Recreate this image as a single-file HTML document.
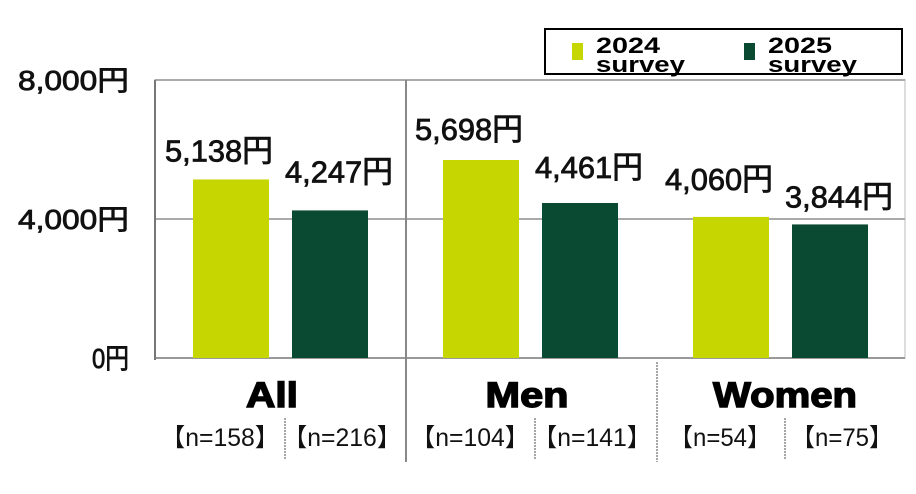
<!DOCTYPE html>
<html><head><meta charset="utf-8"><style>
body{margin:0;background:#fff;width:916px;height:489px;overflow:hidden;font-family:"Liberation Sans","Noto Sans CJK JP",sans-serif}
svg text{font-family:"Liberation Sans","Noto Sans CJK JP",sans-serif}
</style></head><body>
<svg width="916" height="489">
<g id="g"></g>
</svg>
<script>
const categories=["All","Men","Women"];
const s2024=[5138,5698,4060];
const s2025=[4247,4461,3844];
const nLabels2024=["【n=158】","【n=104】","【n=54】"];
const nLabels2025=["【n=216】","【n=141】","【n=75】"];
const yTicks=[0,4000,8000];
const X0=155,GW=250,Y0=358,Y1=80,YMAX=8000;
const y=v=>Y0-(v/YMAX)*(Y0-Y1);
const gx=i=>X0+i*GW;
const ns="http://www.w3.org/2000/svg";
const g=document.getElementById('g');
function el(t,a,txt){const e=document.createElementNS(ns,t);for(const k in a)e.setAttribute(k,a[k]);if(txt!=null)e.textContent=txt;g.appendChild(e);return e;}
const labelGap=[[18,28],[20,25],[27,17]];
let e=el('rect',{x:X0,y:Y1,width:GW*3,height:Y0-Y1,fill:'none',stroke:'#ddd','stroke-width':2});


yTicks.forEach(t=>{
 let l=el('line',{x1:X0,x2:X0+GW*3,y1:y(t),y2:y(t),stroke:t==0?'#999':'#aaa','stroke-width':2});
 
 
 let s=t.toLocaleString('en-US')+'円';
 let tx=el('text',{x:129,y:y(t)+10,'text-anchor':'end','font-size':28,fill:'#111',stroke:'#111','stroke-width':0.8,textLength:s.length*18.5,lengthAdjust:'spacingAndGlyphs'},s);
 
 
});
e=el('line',{x1:X0,x2:X0,y1:Y1,y2:Y0+2,stroke:'#777','stroke-width':2});


const catW=[52,83,144];
categories.forEach((c,i)=>{
 const bx=[gx(i)+38,gx(i)+137];
 [s2024[i],s2025[i]].forEach((v,j)=>{
  let r=el('rect',{x:bx[j],y:y(v),width:76,height:Y0-y(v),fill:j?'#0b4a32':'#c6d600'});
  
  
  let t=el('text',{x:bx[j]+38+(j?9:-12),y:y(v)-labelGap[i][j],'text-anchor':'middle','font-size':31,fill:'#111',stroke:'#111','stroke-width':0.8,'textLength':108,lengthAdjust:'spacingAndGlyphs'},v.toLocaleString('en-US')+'円');
  
  
 });
 let ct=el('text',{x:gx(i)+GW/2+(i==0?-8:i==1?-3:5),y:407,'text-anchor':'middle','font-size':35,'font-weight':'bold',fill:'#000',stroke:'#000','stroke-width':1.4,textLength:catW[i],lengthAdjust:'spacingAndGlyphs'},c);
 
 
 let n1=el('text',{x:gx(i)+65,y:446,'text-anchor':'middle','font-size':25,fill:'#111',textLength:nLabels2024[i].length*17,lengthAdjust:'spacingAndGlyphs'},nLabels2024[i]);
 
 
 let n2=el('text',{x:gx(i)+187,y:446,'text-anchor':'middle','font-size':25,fill:'#111',textLength:nLabels2025[i].length*17,lengthAdjust:'spacingAndGlyphs'},nLabels2025[i]);
 
 
 let d=el('line',{x1:gx(i)+130,x2:gx(i)+130,y1:418,y2:460,stroke:'#888','stroke-width':1.5,'stroke-dasharray':'2,1'});
 
 
});
e=el('line',{x1:406,x2:406,y1:Y1,y2:462,stroke:'#888','stroke-width':2});


e=el('line',{x1:657,x2:657,y1:Y0+4,y2:462,stroke:'#888','stroke-width':1.5,'stroke-dasharray':'2,1'});


e=el('rect',{x:545,y:29,width:357,height:45,fill:'#fff',stroke:'#000','stroke-width':2});


[['2024','#c6d600',572],['2025','#0b4a32',744]].forEach(([s,c,x])=>{
 let r=el('rect',{x:x,y:43,width:11,height:17,fill:c});
 
 
 let t=el('text',{x:x+24,y:53,'font-size':22,'font-weight':'bold',fill:'#000',textLength:64,lengthAdjust:'spacingAndGlyphs'},s);
 
 
 let t2=el('text',{x:x+24,y:72,'font-size':22,'font-weight':'bold',fill:'#000',textLength:89,lengthAdjust:'spacingAndGlyphs'},'survey');
 
 
});
</script>
</body></html>
